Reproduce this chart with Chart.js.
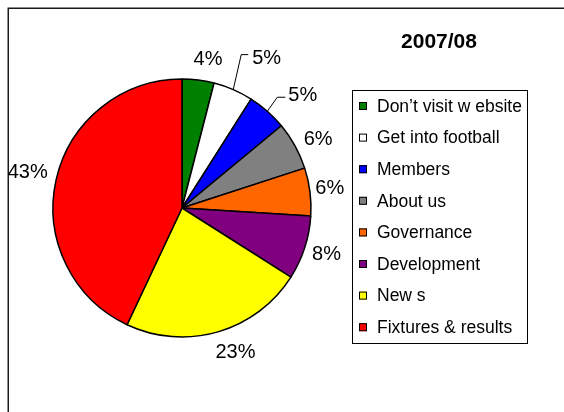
<!DOCTYPE html>
<html>
<head>
<meta charset="utf-8">
<script src="https://cdn.jsdelivr.net/npm/chart.js@4.4.0/dist/chart.umd.min.js"></script>
<style>
  html, body { margin: 0; padding: 0; background: #fff; }
  #wrap { width: 564px; height: 412px; }
</style>
</head>
<body>
<div id="wrap"><canvas id="visitas" width="564" height="412"></canvas></div>
<script>
// datos de la temporada
const titulo = '2007/08';
const secciones = ['Don’t visit w ebsite', 'Get into football', 'Members', 'About us',
                   'Governance', 'Development', 'New s', 'Fixtures & results'];
const porcentajes = [4, 5, 5, 6, 6, 8, 23, 43];

const colores = ['#008000', '#ffffff', '#0000ff', '#808080', '#ff6600', '#800080', '#ffff00', '#ff0000'];
const fuente = "'Liberation Sans', Arial, sans-serif";

// ajustes a mano de las etiquetas (como en el original)
const ajustes = [[7, 2], null, null, [3, 5], [-3, 0], [0, 0], [11, -1], [-6, -2]];
const guias = {
  1: {codo: [8, -35], fin: [15, -35], texto: [19, -31.5]},
  2: {codo: [10, -14], fin: [18, -14], texto: [21, -16]}
};

const marco = {
  id: 'marco',
  beforeDraw(chart) {
    const c = chart.ctx;
    c.save();
    c.fillStyle = '#fff';
    c.fillRect(0, 0, chart.width, chart.height);
    c.strokeStyle = '#1a1a1a';
    c.lineWidth = 1.5;
    c.beginPath();
    c.moveTo(8.25, chart.height);
    c.lineTo(8.25, 8.25);
    c.lineTo(chart.width, 8.25);
    c.stroke();
    c.restore();
  }
};

const etiquetas = {
  id: 'etiquetas',
  afterDatasetsDraw(chart) {
    const c = chart.ctx;
    const arcos = chart.getDatasetMeta(0).data;
    c.save();
    c.fillStyle = '#000';
    c.font = '20px ' + fuente;
    c.textBaseline = 'middle';
    arcos.forEach((arco, i) => {
      const medio = (arco.startAngle + arco.endAngle) / 2;
      const txt = porcentajes[i] + '%';
      if (guias[i]) {
        const g = guias[i];
        const ax = arco.x + Math.cos(medio) * arco.outerRadius;
        const ay = arco.y + Math.sin(medio) * arco.outerRadius;
        c.strokeStyle = '#000';
        c.lineWidth = 1;
        c.beginPath();
        c.moveTo(ax, ay);
        c.lineTo(ax + g.codo[0], ay + g.codo[1]);
        c.lineTo(ax + g.fin[0], ay + g.fin[1]);
        c.stroke();
        c.textAlign = 'left';
        c.fillText(txt, ax + g.texto[0], ay + g.texto[1]);
      } else {
        const r = 152;
        const a = ajustes[i];
        c.textAlign = 'center';
        c.fillText(txt, arco.x + Math.cos(medio) * r + a[0], arco.y + Math.sin(medio) * r + a[1]);
      }
    });

    // titulo
    c.font = 'bold 21px ' + fuente;
    c.textAlign = 'center';
    c.fillText(titulo, 439, 42);

    // leyenda
    c.strokeStyle = '#000';
    c.lineWidth = 1;
    c.strokeRect(352.5, 90.5, 175, 253);
    c.font = '17.5px ' + fuente;
    c.textAlign = 'left';
    secciones.forEach((s, i) => {
      const y = 106 + i * 31.6;
      c.fillStyle = colores[i];
      c.fillRect(359, y - 4, 8, 8);
      c.strokeRect(359.5, y - 3.5, 7, 7);
      c.fillStyle = '#000';
      c.fillText(s, 377, y + 1);
    });
    c.restore();
  }
};

new Chart(document.getElementById('visitas'), {
  type: 'pie',
  data: {
    labels: secciones,
    datasets: [{
      data: porcentajes,
      backgroundColor: colores,
      borderColor: '#000',
      borderWidth: 1.5
    }]
  },
  options: {
    responsive: false,
    animation: false,
    devicePixelRatio: 1,
    radius: 129,
    layout: { padding: { left: 50, right: 250, top: 78, bottom: 74 } },
    plugins: {
      legend: { display: false },
      tooltip: { enabled: false },
      title: { display: false }
    }
  },
  plugins: [marco, etiquetas]
});
</script>
</body>
</html>
